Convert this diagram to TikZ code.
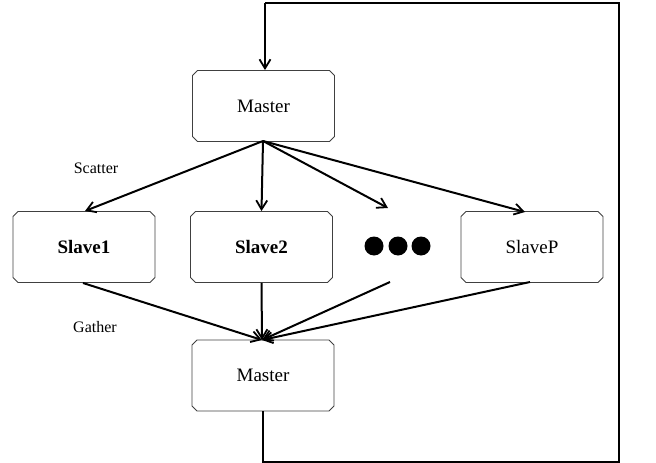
\documentclass[tikz,border=0pt]{standalone}
\usepackage{fontspec}
\setmainfont{Liberation Serif}
\usetikzlibrary{arrows.meta,shapes.misc}
\begin{document}
\begin{tikzpicture}[x=1pt,y=-1pt,
  procbox/.style={chamfered rectangle, chamfered rectangle xsep=2.5pt,
    chamfered rectangle ysep=2.5pt, draw=black!75, line width=0.9pt,
    minimum width=142pt, minimum height=71pt, inner sep=0pt,
    font=\fontsize{19}{21}\selectfont},
  flow/.style={line width=2pt, -{Straight Barb[length=9pt,width=11pt,line width=1.8pt]}},
  link/.style={line width=2pt},
  dotmark/.style={circle, fill=black, minimum size=19pt, inner sep=0pt},
  lbl/.style={font=\fontsize{16}{18}\selectfont}]
\useasboundingbox (0,0) rectangle (656,463);

% process boxes
\node[procbox] (mtop) at (263.5,106) {Master};
\node[procbox] (s1)   at (84,247)    {\bfseries Slave1};
\node[procbox] (s2)   at (261.5,247) {\bfseries Slave2};
\node[procbox] (sp)   at (532,247)   {SlaveP};
\node[procbox] (mbot) at (263,375.5) {Master};

% ellipsis between Slave2 and SlaveP
\node[dotmark] (d1) at (374,246) {};
\node[dotmark] (d2) at (398,246) {};
\node[dotmark] (d3) at (421,246) {};
\coordinate (dotsin)  at (388,208);
\coordinate (dotsout) at (390,282);

% labels
\node[lbl] (scatter) at (96,168) {Scatter};
\node[lbl] (gather)  at (95,327) {Gather};

% scatter arrows
\coordinate (mtopout) at (263,141);
\draw[flow] (mtopout) -- (85,211);
\draw[flow] (mtopout) -- (s2.north);
\draw[flow] (mtopout) -- (dotsin);
\draw[flow] (mtopout) -- (525,212);

% gather arrows
\coordinate (mbotin) at (262,340);
\draw[flow] (83,283) -- (mbotin);
\draw[flow] (s2.south) -- (mbotin);
\draw[flow] (dotsout) -- (mbotin);
\draw[flow] (530,282) -- (mbotin);

% feedback loop from bottom master to top master
\coordinate (c1) at (263,462);
\coordinate (c2) at (619,462);
\coordinate (c3) at (619,3);
\coordinate (c4) at (265,3);
\draw[link] (mbot.south) -- (c1) -- (c2) -- (c3) -- (c4);
\draw[flow] (c4) -- (mtop.north -| c4);
\end{tikzpicture}
\end{document}
